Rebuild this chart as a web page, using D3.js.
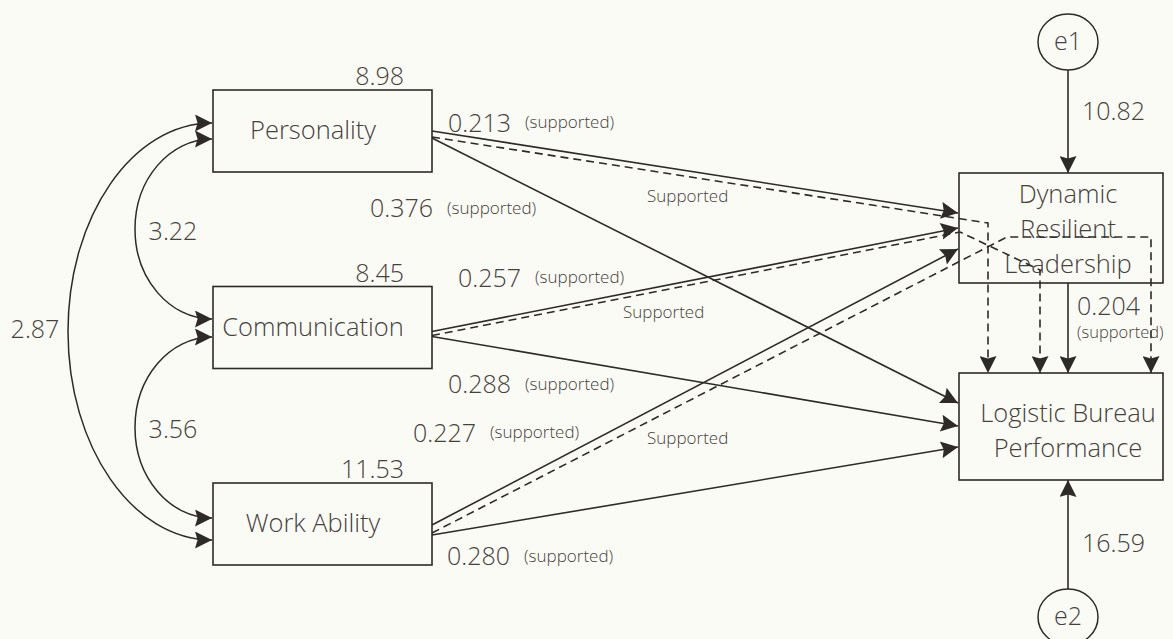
<!DOCTYPE html>
<html>
<head>
<meta charset="utf-8">
<script src="https://cdn.jsdelivr.net/npm/d3@7"></script>
<style>
  html, body { margin: 0; padding: 0; background: #fbfbf5; }
  svg { display: block; }
  text { font-family: "Open Sans", sans-serif; font-weight: 300; fill: #46413e; }
</style>
</head>
<body>
<svg id="chart" width="1173" height="639"></svg>
<script>
// exogenous constructs and their variances
var exoNames = ["Personality", "Communication", "Work Ability"];
var exoVariances = ["8.98", "8.45", "11.53"];

// covariances between the exogenous constructs
var covPairs = [[0, 1], [1, 2], [0, 2]];
var covValues = ["3.22", "3.56", "2.87"];

// path coefficients
var toMediator = ["0.213", "0.257", "0.227"];
var toOutcome = ["0.376", "0.288", "0.280"];
var mediatorToOutcome = "0.204";
var indirectLabels = ["Supported", "Supported", "Supported"];
var statusLabel = "(supported)";

// endogenous constructs and error terms
var mediatorLines = ["Dynamic", "Resilient", "Leadership"];
var outcomeLines = ["Logistic Bureau", "Performance"];
var errorNames = ["e1", "e2"];
var errorValues = ["10.82", "16.59"];

var svg = d3.select("#chart");
var ink = "#2e2a27";
var big = 25.5, num = 25, small = 17;

// layout --------------------------------------------------------------
var rowY = d3.scalePoint().domain(exoNames).range([131, 524]);
var box = { x: 213, w: 219, h: 82 };
var xRight = box.x + box.w;
var med = { x: 959, y: 173, w: 204, h: 110 };
var out = { x: 959, y: 373, w: 204, h: 107 };
var midX = med.x + 109;

// start offsets on the exogenous boxes and end points on the targets
var startMed = [0, 4, 1], startDash = [6, 8, 9], startOut = [7, 9, 11];
var endMed = [213, 228, 249];
var endOut = [403, 426, 447];
// indirect routes through the mediator box, ending on the outcome box
var dashRoutes = [
  [[988, 223], [988, out.y]],
  [[960, 232], [1040, 270], [1040, out.y]],
  [[1007, 237], [1151, 237], [1151, out.y]]
];
var medLabelPos = [[448, 132], [458, 287], [413, 442]];
var outLabelPos = [[370, 217], [448, 393], [447, 565]];
var indirectPos = [[647, 202], [623, 318], [647, 444]];

// markers
var defs = svg.append("defs");
defs.append("marker")
  .attr("id", "arrow")
  .attr("viewBox", "0 0 10 10")
  .attr("refX", 10).attr("refY", 5)
  .attr("markerWidth", 19).attr("markerHeight", 17)
  .attr("markerUnits", "userSpaceOnUse")
  .attr("orient", "auto-start-reverse")
  .append("path")
  .attr("d", "M0,0 L10,5 L0,10 L1.5,5 Z")
  .attr("fill", ink);

var line = d3.line();

function fmt(sel, size) {
  return sel.style("font-size", size + "px");
}

// exogenous boxes
var rows = svg.selectAll("g.exo").data(exoNames).enter().append("g").attr("class", "exo");
rows.append("rect")
  .attr("x", box.x)
  .attr("y", function (d) { return rowY(d) - box.h / 2; })
  .attr("width", box.w).attr("height", box.h)
  .attr("fill", "none").attr("stroke", ink).attr("stroke-width", 1.6);
fmt(rows.append("text"), big)
  .attr("x", box.x + 100)
  .attr("y", function (d) { return rowY(d) + 8; })
  .attr("text-anchor", "middle")
  .text(function (d) { return d; });
fmt(rows.append("text"), num)
  .attr("x", 404)
  .attr("y", function (d) { return rowY(d) - box.h / 2 - 5; })
  .attr("text-anchor", "end")
  .text(function (d, i) { return exoVariances[i]; });

// covariance arcs (half ellipses to the left of the boxes)
var covEnds = [[8, -8.5], [9.5, -6], [-8, 16]];
var covLeft = [135, 135, 68];
covPairs.forEach(function (p, i) {
  var y0 = rowY(exoNames[p[0]]) + covEnds[i][0];
  var y1 = rowY(exoNames[p[1]]) + covEnds[i][1];
  var x0 = box.x - 1, xl = covLeft[i];
  var ym = (y0 + y1) / 2, k = 0.552;
  var pth = d3.path();
  pth.moveTo(x0, y0);
  pth.bezierCurveTo(x0 - k * (x0 - xl), y0, xl, ym - k * (ym - y0), xl, ym);
  pth.bezierCurveTo(xl, ym + k * (y1 - ym), x0 - k * (x0 - xl), y1, x0, y1);
  svg.append("path")
    .attr("d", pth.toString())
    .attr("fill", "none").attr("stroke", ink).attr("stroke-width", 1.5)
    .attr("marker-start", "url(#arrow)")
    .attr("marker-end", "url(#arrow)");
});
var covLabelPos = [[173, 232], [173, 430], [35, 330]];
covValues.forEach(function (v, i) {
  fmt(svg.append("text"), num)
    .attr("x", covLabelPos[i][0]).attr("y", covLabelPos[i][1] + 8)
    .attr("text-anchor", "middle").text(v);
});

// mediator and outcome boxes
[med, out].forEach(function (b) {
  svg.append("rect")
    .attr("x", b.x).attr("y", b.y).attr("width", b.w).attr("height", b.h)
    .attr("fill", "none").attr("stroke", ink).attr("stroke-width", 1.6);
});
mediatorLines.forEach(function (t, i) {
  fmt(svg.append("text"), big)
    .attr("x", midX).attr("y", 203 + i * 35)
    .attr("text-anchor", "middle").text(t);
});
outcomeLines.forEach(function (t, i) {
  fmt(svg.append("text"), big)
    .attr("x", midX).attr("y", 422 + i * 35)
    .attr("text-anchor", "middle").text(t);
});

// direct paths
exoNames.forEach(function (d, i) {
  var y = rowY(d);
  svg.append("path")
    .attr("d", line([[xRight, y + startMed[i]], [med.x - 1, endMed[i]]]))
    .attr("fill", "none").attr("stroke", ink).attr("stroke-width", 1.6)
    .attr("marker-end", "url(#arrow)");
  svg.append("path")
    .attr("d", line([[xRight, y + startOut[i]], [out.x - 1, endOut[i]]]))
    .attr("fill", "none").attr("stroke", ink).attr("stroke-width", 1.6)
    .attr("marker-end", "url(#arrow)");
  svg.append("path")
    .attr("d", line([[xRight, y + startDash[i]]].concat(dashRoutes[i])))
    .attr("fill", "none").attr("stroke", ink).attr("stroke-width", 1.6)
    .attr("stroke-dasharray", "8,5")
    .attr("marker-end", "url(#arrow)");

  // coefficient labels
  fmt(svg.append("text"), num)
    .attr("x", medLabelPos[i][0]).attr("y", medLabelPos[i][1]).text(toMediator[i]);
  fmt(svg.append("text"), small)
    .attr("x", medLabelPos[i][0] + 77).attr("y", medLabelPos[i][1] - 4).text(statusLabel);
  fmt(svg.append("text"), num)
    .attr("x", outLabelPos[i][0]).attr("y", outLabelPos[i][1]).text(toOutcome[i]);
  fmt(svg.append("text"), small)
    .attr("x", outLabelPos[i][0] + 77).attr("y", outLabelPos[i][1] - 3).text(statusLabel);
  fmt(svg.append("text"), small)
    .attr("x", indirectPos[i][0]).attr("y", indirectPos[i][1]).text(indirectLabels[i]);
});

// mediator -> outcome
svg.append("path")
  .attr("d", line([[midX, med.y + med.h], [midX, out.y]]))
  .attr("fill", "none").attr("stroke", ink).attr("stroke-width", 1.6)
  .attr("marker-end", "url(#arrow)");
fmt(svg.append("text"), num).attr("x", 1077).attr("y", 315).text(mediatorToOutcome);
fmt(svg.append("text"), 16.5).attr("x", 1077).attr("y", 338).text(statusLabel);

// error terms
var errCenters = [42, 617];
var errTargets = [med.y, out.y + out.h];
errorNames.forEach(function (e, i) {
  var cy = errCenters[i];
  svg.append("ellipse")
    .attr("cx", midX).attr("cy", cy).attr("rx", 30).attr("ry", 28)
    .attr("fill", "none").attr("stroke", ink).attr("stroke-width", 1.5);
  fmt(svg.append("text"), num)
    .attr("x", midX).attr("y", cy + 8)
    .attr("text-anchor", "middle").text(e);
  var y0 = i === 0 ? cy + 28 : cy - 28;
  svg.append("path")
    .attr("d", line([[midX, y0], [midX, errTargets[i]]]))
    .attr("fill", "none").attr("stroke", ink).attr("stroke-width", 1.6)
    .attr("marker-end", "url(#arrow)");
});
fmt(svg.append("text"), num).attr("x", 1082).attr("y", 120).text(errorValues[0]);
fmt(svg.append("text"), num).attr("x", 1082).attr("y", 552).text(errorValues[1]);
</script>
</body>
</html>
